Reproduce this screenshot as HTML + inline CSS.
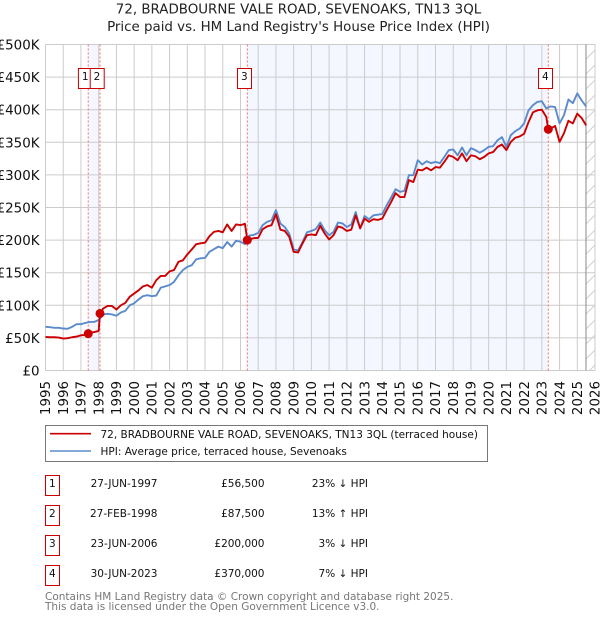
<!DOCTYPE html>
<html lang="en">
<head>
<meta charset="utf-8">
<title>72, Bradbourne Vale Road price chart</title>
<style>
html,body{margin:0;padding:0;background:#fff;width:600px;height:620px;overflow:hidden}
svg{display:block;font-family:"DejaVu Sans","Liberation Sans",sans-serif}
</style>
</head>
<body>
<svg id="chart" width="600" height="620" viewBox="0 0 600 620" xmlns="http://www.w3.org/2000/svg">
<defs>
<pattern id="hatch" width="15" height="15" patternUnits="userSpaceOnUse">
<path d="M-1 16L16 -1M-8 8L8 -8M7 23L23 7" stroke="#d0d0d0" stroke-width="1" fill="none"/>
</pattern>
</defs>
<g text-anchor="middle" fill="#222" font-size="13.4">
<text x="298.5" y="13.5">72, BRADBOURNE VALE ROAD, SEVENOAKS, TN13 3QL</text>
<text x="298.5" y="31">Price paid vs. HM Land Registry's House Price Index (HPI)</text>
</g>
<g id="bands"></g>
<g id="grid"></g>
<g id="ylabels" fill="#111" font-size="13.4" text-anchor="end"></g>
<g id="xlabels" fill="#111" font-size="13.4" text-anchor="end"></g>
<g id="future"></g>
<g id="sale-lines"></g>
<g id="series"></g>
<g id="sale-dots"></g>
<g id="sale-tags"></g>

<g>
<rect x="45.5" y="425.5" width="442" height="36" fill="#fff" stroke="#777" stroke-width="1"/>
<line x1="50" y1="433.7" x2="91" y2="433.7" stroke="#cc0000" stroke-width="1.6"/>
<line x1="50" y1="451" x2="91" y2="451" stroke="#5b8bcc" stroke-width="1.6"/>
<text x="100.5" y="438" font-size="10.5" fill="#111">72, BRADBOURNE VALE ROAD, SEVENOAKS, TN13 3QL (terraced house)</text>
<text x="100.5" y="455" font-size="10.5" fill="#111">HPI: Average price, terraced house, Sevenoaks</text>
</g>

<g font-size="10.5" fill="#111">
<g>
<rect x="45.5" y="475.5" width="14" height="20" fill="#fff" stroke="#cc0000" stroke-width="1"/>
<text x="52.3" y="487" text-anchor="middle">1</text>
<text x="157.5" y="487" text-anchor="end">27-JUN-1997</text>
<text x="264.5" y="487" text-anchor="end">£56,500</text>
<text x="368" y="487" text-anchor="end">23% ↓ HPI</text>
</g>
<g>
<rect x="45.5" y="505.5" width="14" height="20" fill="#fff" stroke="#cc0000" stroke-width="1"/>
<text x="52.3" y="517" text-anchor="middle">2</text>
<text x="157.5" y="517" text-anchor="end">27-FEB-1998</text>
<text x="264.5" y="517" text-anchor="end">£87,500</text>
<text x="368" y="517" text-anchor="end">13% ↑ HPI</text>
</g>
<g>
<rect x="45.5" y="535.5" width="14" height="20" fill="#fff" stroke="#cc0000" stroke-width="1"/>
<text x="52.3" y="547" text-anchor="middle">3</text>
<text x="157.5" y="547" text-anchor="end">23-JUN-2006</text>
<text x="264.5" y="547" text-anchor="end">£200,000</text>
<text x="368" y="547" text-anchor="end">3% ↓ HPI</text>
</g>
<g>
<rect x="45.5" y="565.5" width="14" height="20" fill="#fff" stroke="#cc0000" stroke-width="1"/>
<text x="52.3" y="577" text-anchor="middle">4</text>
<text x="157.5" y="577" text-anchor="end">30-JUN-2023</text>
<text x="264.5" y="577" text-anchor="end">£370,000</text>
<text x="368" y="577" text-anchor="end">7% ↓ HPI</text>
</g>
</g>

<g font-size="10.5" fill="#777">
<text x="45" y="600">Contains HM Land Registry data © Crown copyright and database right 2025.</text>
<text x="45" y="610">This data is licensed under the Open Government Licence v3.0.</text>
</g>
</svg>

<script>
const yearTicks = [1995,1996,1997,1998,1999,2000,2001,2002,2003,2004,2005,2006,2007,2008,2009,2010,2011,2012,2013,2014,2015,2016,2017,2018,2019,2020,2021,2022,2023,2024,2025,2026];
const priceTicks = [0,50,100,150,200,250,300,350,400,450,500];
const priceTickLabels = ["£0","£50K","£100K","£150K","£200K","£250K","£300K","£350K","£400K","£450K","£500K"];

// Quarterly readings in £ thousand, starting Q1 1995
const hpiValues = [
67,66.5,65.5,65.5, 64.4,64,67,71, 71,73,74.5,74.5, 77.5,86,87,86,
84,89,91.4,100, 103,109,114,115.5, 114,115,127,129, 131,136,146,154,
159,161.5,170.6,172, 172.7,182,186,190, 187.6,197,190,199, 197.5,193.7,207,208,
211,223,228,230.5, 246,225.5,220,210, 186,184,197,212, 214,217,227,215,
207.5,212.6,227,225.6, 220,224,243,218, 237,232,238,239, 240,253.5,265.5,278,
274,275.5,299.5,299.5, 322.5,316,321,318, 320,318,327.6,337.9, 339,330,342,330,
341,338,334,338, 343,344,353,358, 343,361,367,371, 379,399,407,412,
413,402,405,404, 379,391.6,415.6,410, 425,414,405
];
const paidValues = [
51.5,51,51,50.5, 49,49.5,51,52, 54,54.5,58,59, 60.7,95,99,99,
93.5,100,103.6,113, 118,123,129,131, 127,138.5,145,145, 152,154,166.6,169,
178,185.6,193.7,195, 196,206,212.6,214, 212,224,214,224, 223,225,201,203,
203.4,216.7,221,222.8, 239.7,216,214,205, 182,181,195,207.5, 208.6,207.5,222,210,
201,207.5,221,219, 214,216,238,218, 233,228,232,231, 233,246,258.6,272,
266,266,292,289, 308,307,311,307, 312,311,320,330, 327.6,322.5,333,321,
330,328.6,324,327.6, 333,335,343,346.6, 338,350.6,357,359, 363,381,396,399,
400,389,371,375, 350.6,364,383,379, 394,387,376
];
const seriesStartYear = 1995;
const readingsPerYear = 4;

const saleYears = [1997.41, 1998.075, 2006.385, 2023.365];
const salePrices = [56.5, 87.5, 200, 370];
const saleNumbers = ["1","2","3","4"];
const lastDataYear = 2025.49;

function x(year){ return 45.5 + (year - 1995) * 17.726; }
function y(value){ return 370.5 - value * 0.652; }

const NS = "http://www.w3.org/2000/svg";
function make(tag, parentId, attrs){
  const node = document.createElementNS(NS, tag);
  for (const k in attrs) node.setAttribute(k, attrs[k]);
  document.getElementById(parentId).appendChild(node);
  return node;
}
function quarterYear(i){ return seriesStartYear + i / readingsPerYear; }
function pathFrom(points){
  return points.map((p, i) => (i ? "L" : "M") + x(p[0]).toFixed(2) + " " + y(p[1]).toFixed(2)).join("");
}

// shaded bands between sale 1-2 and sale 3-4
[[0,1],[2,3]].forEach(pair => {
  const band = make("rect", "bands", {x:x(saleYears[pair[0]]), y:y(500), width:x(saleYears[pair[1]])-x(saleYears[pair[0]]), height:y(0)-y(500), fill:"#f4f7ff"});
  
  
});

// grid and axis labels
priceTicks.forEach((v, i) => {
  const line = make("line", "grid", {x1:x(1995), x2:x(2026), y1:y(v), y2:y(v), stroke:"#cccccc", "stroke-width":1});
  
  
  const label = make("text", "ylabels", {x:39.5, y:y(v)+5});
  
  
  label.textContent = priceTickLabels[i];
});
yearTicks.forEach(t => {
  const line = make("line", "grid", {x1:x(t), x2:x(t), y1:y(500), y2:y(0), stroke:"#cccccc", "stroke-width":1});
  
  
  const label = make("text", "xlabels", {transform:"translate("+(x(t)+4.7)+",381) rotate(-90)"});
  
  
  label.textContent = t;
});

// hatched region after the last data point
const hatchRect = make("rect", "future", {x:x(lastDataYear), y:y(500), width:x(2026)-x(lastDataYear), height:y(0)-y(500), fill:"url(#hatch)"});


const hatchEdge = make("line", "future", {x1:x(lastDataYear), x2:x(lastDataYear), y1:y(500), y2:y(0), stroke:"#888888", "stroke-width":1});



// dotted sale lines
saleYears.forEach(t => {
  const line = make("line", "sale-lines", {x1:x(t), x2:x(t), y1:y(500), y2:y(0), stroke:"#ff6b6b", "stroke-width":1, "stroke-dasharray":"2 2"});
  
  
});

// series
const hpiPoints = hpiValues.map((v, i) => [quarterYear(i), v]);
const paidPoints = paidValues.map((v, i) => [quarterYear(i), v])
  .concat(saleYears.map((t, i) => [t, salePrices[i]]))
  .sort((a, b) => a[0] - b[0]);

const hpiLine = make("path", "series", {d:pathFrom(hpiPoints), fill:"none", stroke:"#5b8bcc", "stroke-width":1.9, "stroke-linejoin":"round"});


const paidLine = make("path", "series", {d:pathFrom(paidPoints), fill:"none", stroke:"#cc0000", "stroke-width":1.9, "stroke-linejoin":"round"});



// sale dots and numbered tags
saleYears.forEach((t, i) => {
  const dot = make("circle", "sale-dots", {cx:x(t), cy:y(salePrices[i]), r:4.5, fill:"#cc0000"});
  
  
  const tag = make("rect", "sale-tags", {x:x(t)-9.8, y:68.5, width:14, height:20, fill:"#fff", stroke:"#cc0000", "stroke-width":1});
  
  
  const num = make("text", "sale-tags", {x:x(t)-3, y:80, "text-anchor":"middle", "font-size":10.5, fill:"#111"});
  
  
  num.textContent = saleNumbers[i];
});
</script>
</body>
</html>
